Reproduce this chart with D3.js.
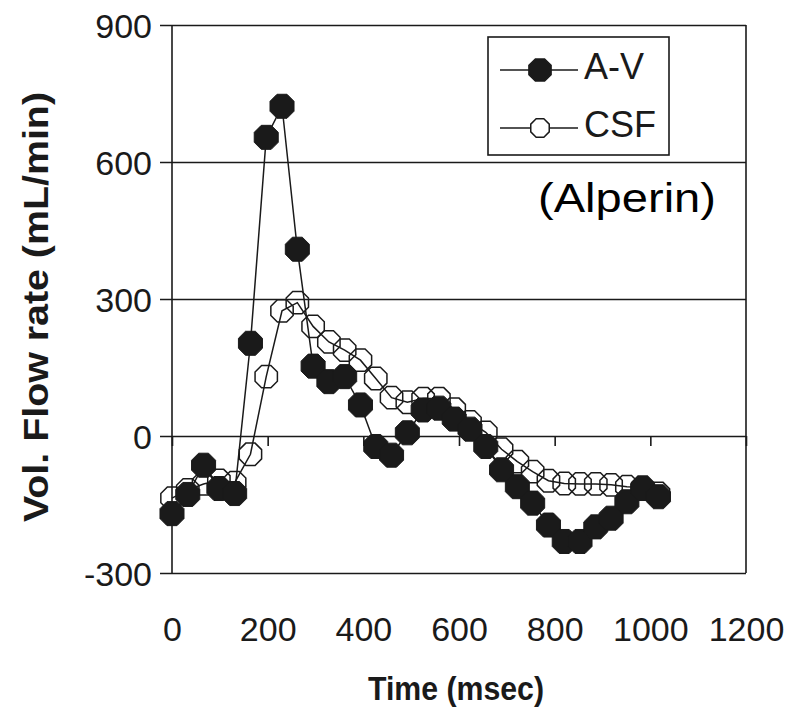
<!DOCTYPE html>
<html><head><meta charset="utf-8">
<script src="https://cdn.jsdelivr.net/npm/d3@7"></script>
<style>body{margin:0;background:#fff}svg{display:block}</style>
</head><body>
<svg id="chart" width="800" height="707"></svg>
<script>
// ---- data ----
const timeMs  = [0,33,66,98,131,164,197,230,262,295,328,361,394,426,459,492,525,558,590,623,656,689,722,754,787,820,853,886,918,951,984,1017];
const avFlow  = [-170,-128,-64,-115,-126,203,654,722,409,153,119,130,68,-23,-42,7,57,61,37,15,-23,-74,-111,-147,-195,-231,-231,-199,-180,-144,-115,-133];
const csfFlow = [-136,-118,-105,-97,-102,-40,130,274,292,240,206,188,166,126,84,74,82,82,59,31,8,-29,-56,-78,-98,-104,-105,-105,-107,-111,-112,-126];
const xTicks = [0,200,400,600,800,1000,1200];
const yTicks = [-300,0,300,600,900];
const seriesNames = ["A-V","CSF"];
const xTitle = "Time (msec)";
const yTitle = "Vol. Flow rate (mL/min)";
const note = "(Alperin)";

// ---- setup ----
const svg = d3.select("#chart");
const FONT = "'Liberation Sans', Arial, Helvetica, sans-serif";
const ink = "#1a1a1a";
const x = d3.scaleLinear().domain([0,1200]).range([172,746]);
const y = d3.scaleLinear().domain([-300,900]).range([573,25]);

svg.append("rect").attr("width",800).attr("height",707).attr("fill","#fff");

const tickFont = 34;

// gridlines + y ticks + labels
const gy = svg.append("g").attr("transform",`translate(${x(1200)},0)`)
  .call(d3.axisLeft(y).tickValues(yTicks).tickSizeInner(x(1200)-160).tickSizeOuter(0)
        .tickPadding(8).tickFormat(d => String(d)));
gy.select(".domain").remove();
gy.selectAll(".tick line").attr("stroke",ink).attr("stroke-width",1.6);
gy.selectAll(".tick text").attr("font-family",FONT).attr("font-size",tickFont)
  .attr("fill",ink).attr("dy","0.36em");

// frame verticals
svg.append("line").attr("x1",x(0)).attr("x2",x(0)).attr("y1",y(900)).attr("y2",y(-300))
  .attr("stroke",ink).attr("stroke-width",1.6);
svg.append("line").attr("x1",x(1200)).attr("x2",x(1200)).attr("y1",y(900)).attr("y2",y(-300))
  .attr("stroke",ink).attr("stroke-width",1.6);

// x ticks on the zero line
const gx = svg.append("g").attr("transform",`translate(0,${y(0)})`)
  .call(d3.axisBottom(x).tickValues(xTicks).tickSizeInner(10).tickSizeOuter(0).tickFormat(""));
gx.select(".domain").remove();
gx.selectAll(".tick line").attr("stroke",ink).attr("stroke-width",1.6);

// x tick labels at bottom
const gxl = svg.append("g").attr("transform",`translate(0,${y(-300)})`)
  .call(d3.axisBottom(x).tickValues(xTicks).tickSize(0).tickFormat(d => String(d)));
gxl.select(".domain").remove();
gxl.selectAll(".tick text").attr("font-family",FONT).attr("font-size",tickFont)
  .attr("fill",ink).attr("y",68).attr("dy",0);

// axis titles
svg.append("text").attr("x",456).attr("y",700).attr("text-anchor","middle")
  .attr("font-family",FONT).attr("font-weight","bold").attr("font-size",33).attr("fill",ink)
  .attr("textLength",176).attr("lengthAdjust","spacingAndGlyphs")
  .text(xTitle);
svg.append("text").attr("transform","translate(48,307) rotate(-90)").attr("text-anchor","middle")
  .attr("font-family",FONT).attr("font-weight","bold").attr("font-size",35).attr("fill",ink)
  .attr("textLength",430).attr("lengthAdjust","spacingAndGlyphs")
  .text(yTitle);

// octagon marker
const octagon = r => d3.lineRadial().curve(d3.curveLinearClosed)(
  d3.range(8).map(k => [Math.PI/8 + k*Math.PI/4, r]));
const R = 13;

const idx = d3.range(timeMs.length);
const lineGen = vals => d3.line().x(i => x(timeMs[i])).y(i => y(vals[i]))(idx);

// CSF series (open)
svg.append("path").attr("d",lineGen(csfFlow)).attr("fill","none").attr("stroke",ink).attr("stroke-width",1.5);
svg.append("g").selectAll("path").data(idx).join("path")
  .attr("d",octagon(R*0.93)).attr("transform",i => `translate(${x(timeMs[i])},${y(csfFlow[i])})`)
  .attr("fill","none").attr("stroke",ink).attr("stroke-width",1.5);

// A-V series (filled)
svg.append("path").attr("d",lineGen(avFlow)).attr("fill","none").attr("stroke",ink).attr("stroke-width",1.5);
svg.append("g").selectAll("path").data(idx).join("path")
  .attr("d",octagon(R)).attr("transform",i => `translate(${x(timeMs[i])},${y(avFlow[i])})`)
  .attr("fill",ink).attr("stroke",ink).attr("stroke-width",1);

// legend
const lg = svg.append("g");
lg.append("rect").attr("x",488).attr("y",37).attr("width",181).attr("height",118)
  .attr("fill","#fff").attr("stroke",ink).attr("stroke-width",1.6);
const legRows = [{name:seriesNames[0], yy:70, filled:true},{name:seriesNames[1], yy:128, filled:false}];
legRows.forEach(r => {
  lg.append("line").attr("x1",500).attr("x2",578).attr("y1",r.yy).attr("y2",r.yy)
    .attr("stroke",ink).attr("stroke-width",1.5);
  lg.append("path").attr("d",octagon(r.filled ? 12 : 10)).attr("transform",`translate(540,${r.yy})`)
    .attr("fill",r.filled ? ink : "#fff").attr("stroke",ink).attr("stroke-width",1.5);
  lg.append("text").attr("x",584).attr("y",r.yy+9).attr("font-family",FONT).attr("font-size",36)
    .attr("fill",ink).text(r.name);
});

// annotation
svg.append("text").attr("x",538).attr("y",212).attr("font-family",FONT).attr("font-size",41)
  .attr("fill","#000").attr("textLength",178).attr("lengthAdjust","spacingAndGlyphs").text(note);
</script>
</body></html>
